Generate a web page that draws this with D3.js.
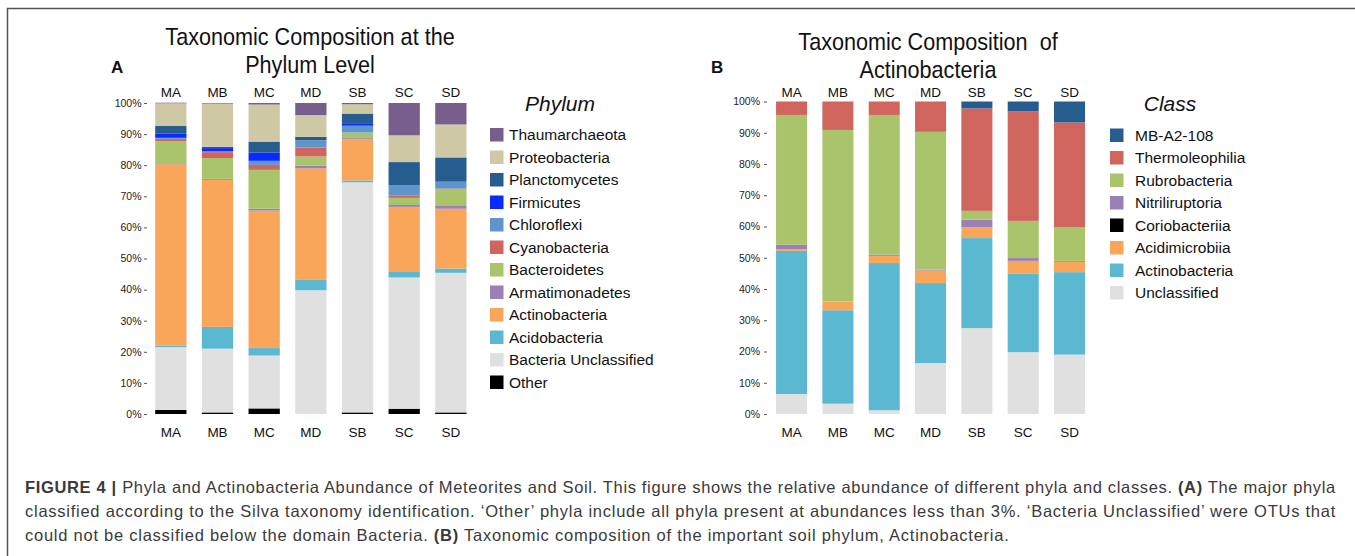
<!DOCTYPE html>
<html>
<head>
<meta charset="utf-8">
<script src="https://cdn.jsdelivr.net/npm/d3@7"></script>
<style>
  body { margin: 0; background: #fff; }
  text { font-family: "Liberation Sans", Arial, sans-serif; }
</style>
</head>
<body>
<div id="container"></div>
<script>
let w = 1355;
let h = 556;

// samples, same order in both panels
const samples = ["MA", "MB", "MC", "MD", "SB", "SC", "SD"];

// panel A: phylum %, stacked bottom -> top
const phyla = ["Other", "Bacteria Unclassified", "Acidobacteria", "Actinobacteria", "Armatimonadetes",
  "Bacteroidetes", "Cyanobacteria", "Chloroflexi", "Firmicutes", "Planctomycetes", "Proteobacteria", "Thaumarchaeota"];
const phylaColors = ["#000000", "#e0e0e0", "#5ab9d1", "#f9a55a", "#9b80b5",
  "#a9c46a", "#d0655d", "#6095cb", "#0a2bff", "#275c8f", "#cfc8a5", "#775e8d"];
const pOther          = [1.3, 0.5, 1.8, 0.0, 0.5, 1.7, 0.5];
const pUnclassified   = [20.2, 20.5, 17.0, 39.8, 74.0, 42.2, 44.9];
const pAcidobacteria  = [0.5, 7.0, 2.4, 3.5, 0.6, 2.0, 1.4];
const pActinobacteria = [58.3, 47.3, 44.2, 35.7, 13.3, 20.7, 19.2];
const pArmatimonadetes = [0.3, 0.3, 0.6, 0.9, 0.3, 0.6, 1.1];
const pBacteroidetes  = [7.1, 6.7, 12.5, 2.9, 1.8, 2.3, 5.2];
const pCyanobacteria  = [0.8, 1.9, 1.6, 2.9, 0.0, 0.7, 0.2];
const pChloroflexi    = [0.3, 0.3, 1.3, 2.3, 2.2, 3.3, 2.2];
const pFirmicutes     = [1.3, 1.0, 2.7, 0.0, 0.8, 0.0, 0.0];
const pPlanctomycetes = [2.5, 0.4, 3.5, 1.1, 3.1, 7.5, 7.8];
const pProteobacteria = [7.3, 13.9, 11.9, 7.0, 3.0, 8.6, 10.6];
const pThaumarchaeota = [0.2, 0.2, 0.5, 3.9, 0.4, 10.4, 6.9];

// panel B: actinobacteria class %, stacked bottom -> top
const classes = ["Unclassified", "Actinobacteria", "Acidimicrobiia", "Coriobacteriia",
  "Nitriliruptoria", "Rubrobacteria", "Thermoleophilia", "MB-A2-108"];
const classColors = ["#e0e0e0", "#5ab9d1", "#f9a55a", "#000000",
  "#9b80b5", "#a9c46a", "#d0655d", "#275c8f"];
const cUnclassified    = [6.4, 3.3, 1.2, 16.3, 27.5, 19.8, 19.0];
const cActinobacteria  = [45.8, 29.9, 47.1, 25.6, 28.8, 25.2, 26.4];
const cAcidimicrobiia  = [0.6, 2.8, 2.3, 4.0, 3.5, 4.0, 3.3];
const cCoriobacteriia  = [0, 0, 0, 0, 0, 0, 0];
const cNitriliruptoria = [1.4, 0.0, 0.4, 0.3, 2.4, 0.9, 0.3];
const cRubrobacteria   = [41.5, 54.9, 44.7, 44.1, 2.8, 11.9, 10.7];
const cThermoleophilia = [4.3, 9.1, 4.3, 9.7, 32.8, 35.1, 33.6];
const cMBA2108         = [0, 0, 0, 0, 2.2, 3.1, 6.7];

const yTicks = [0, 10, 20, 30, 40, 50, 60, 70, 80, 90, 100];

function toRows(series, names) {
  return samples.map((s, i) => {
    let row = { sample: s };
    names.forEach((n, j) => row[n] = series[j][i]);
    return row;
  });
}
let rowsA = toRows([pOther, pUnclassified, pAcidobacteria, pActinobacteria, pArmatimonadetes, pBacteroidetes,
  pCyanobacteria, pChloroflexi, pFirmicutes, pPlanctomycetes, pProteobacteria, pThaumarchaeota], phyla);
let rowsB = toRows([cUnclassified, cActinobacteria, cAcidimicrobiia, cCoriobacteriia, cNitriliruptoria,
  cRubrobacteria, cThermoleophilia, cMBA2108], classes);

let viz = d3.select("#container").append("svg")
  .attr("width", w)
  .attr("height", h);

// figure frame
viz.append("path")
  .attr("d", "M7.5,556 V8.5 H1355")
  .attr("fill", "none")
  .attr("stroke", "#555")
  .attr("stroke-width", 1.5);

function panel(rows, names, colors, x0, x1, yTop, axisX, pad) {
  let x = d3.scaleBand().domain(samples).range([x0, x1]).paddingInner(0.33).paddingOuter(0.165);
  let y = d3.scaleLinear().domain([0, 100]).range([414, yTop]);
  let stack = d3.stack().keys(names)(rows);
  let g = viz.append("g");
  g.selectAll("g.layer")
    .data(stack)
    .join("g")
    .attr("class", "layer")
    .attr("fill", (d, i) => colors[i])
    .selectAll("rect")
    .data(d => d)
    .join("rect")
    .attr("x", d => x(d.data.sample))
    .attr("y", d => y(d[1]))
    .attr("width", x.bandwidth())
    .attr("height", d => y(d[0]) - y(d[1]));

  let ax = g.append("g")
    .attr("transform", "translate(" + axisX + ",0)")
    .call(d3.axisLeft(y).tickValues(yTicks).tickFormat(d => d + "%").tickSize(3).tickPadding(pad));
  ax.select(".domain").remove();
  ax.selectAll("line").attr("stroke", "#555");
  ax.selectAll("text").attr("font-size", 10.5).attr("fill", "#222")
    .attr("font-family", "Liberation Sans, Arial, sans-serif");

  [97, 437].forEach(ty => {
    g.selectAll(null)
      .data(samples)
      .join("text")
      .text(d => d)
      .attr("x", d => x(d) + x.bandwidth() / 2)
      .attr("y", ty)
      .attr("text-anchor", "middle")
      .attr("font-size", 13.5)
      .attr("fill", "#111");
  });
}

panel(rowsA, phyla, phylaColors, 147.5, 474.2, 103, 147, 2.5);
panel(rowsB, classes, classColors, 768.4, 1092.7, 101.5, 767, 4);

function legend(names, colors, title, tx, sx, y0) {
  let g = viz.append("g");
  g.append("text")
    .text(title)
    .attr("x", tx)
    .attr("y", 111)
    .attr("text-anchor", "middle")
    .attr("font-size", 21)
    .attr("font-style", "italic")
    .attr("font-family", "Lato, 'Open Sans', sans-serif")
    .attr("fill", "#111");
  let items = names.slice().reverse();
  let cols = colors.slice().reverse();
  let row = g.selectAll("g.item")
    .data(items)
    .join("g")
    .attr("transform", (d, i) => "translate(0," + (y0 + i * 22.5) + ")");
  row.append("rect")
    .attr("x", sx)
    .attr("y", -6.5)
    .attr("width", 13.5)
    .attr("height", 13.5)
    .attr("fill", (d, i) => cols[i]);
  row.append("text")
    .text(d => d)
    .attr("x", sx + (title == "Phylum" ? 19 : 25))
    .attr("y", 5.5)
    .attr("font-size", 15.5)
    .attr("fill", "#111");
}
legend(phyla, phylaColors, "Phylum", 560, 490, 134.5);
legend(classes, classColors, "Class", 1170, 1110, 135);

// panel titles (a bit condensed, like the original) and letters
function title(lines, cx, ys) {
  lines.forEach((t, i) => {
    viz.append("text")
      .text(t)
      .attr("transform", "translate(" + cx + "," + ys[i] + ") scale(0.9,1)")
      .attr("text-anchor", "middle")
      .attr("font-size", 24)
      .attr("font-family", "Lato, 'Open Sans', sans-serif")
      .attr("fill", "#111")
      .style("white-space", "pre");
  });
}
title(["Taxonomic Composition at the", "Phylum Level"], 310, [45, 73]);
title(["Taxonomic Composition  of", "Actinobacteria"], 928, [50, 78]);

viz.append("text").text("A").attr("x", 111).attr("y", 73)
  .attr("font-size", 17).attr("font-weight", "bold").attr("fill", "#111");
viz.append("text").text("B").attr("x", 711).attr("y", 73)
  .attr("font-size", 17).attr("font-weight", "bold").attr("fill", "#111");

// caption
let caption = [
  [["FIGURE 4 | ", true], ["Phyla and Actinobacteria Abundance of Meteorites and Soil. This figure shows the relative abundance of different phyla and classes. ", false], ["(A)", true], [" The major phyla", false]],
  [["classified according to the Silva taxonomy identification. \u2018Other\u2019 phyla include all phyla present at abundances less than 3%. \u2018Bacteria Unclassified\u2019 were OTUs that", false]],
  [["could not be classified below the domain Bacteria. ", false], ["(B)", true], [" Taxonomic composition of the important soil phylum, Actinobacteria.", false]]
];
caption.forEach((parts, i) => {
  let t = viz.append("text")
    .attr("x", 25)
    .attr("y", 493 + i * 24)
    .attr("font-size", 16.5)
    .attr("letter-spacing", 0.75)
    .attr("fill", "#3a3a3a")
    .style("white-space", "pre");
  parts.forEach(p => {
    t.append("tspan").text(p[0]).attr("font-weight", p[1] ? "bold" : "normal");
  });
  if (i < 2) t.attr("textLength", 1311).attr("lengthAdjust", "spacing");
});
</script>
</body>
</html>
